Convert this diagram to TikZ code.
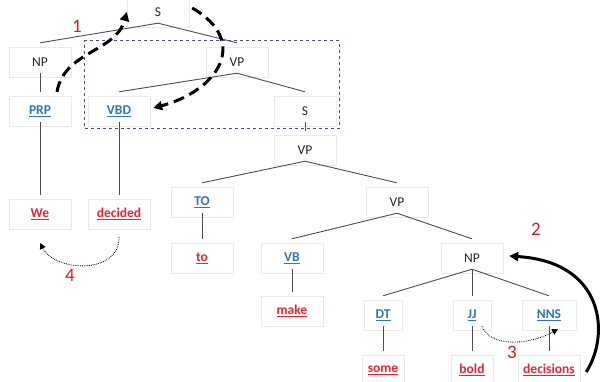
\documentclass[tikz,border=0pt]{standalone}
\usepackage{fontspec}
\setmainfont{Carlito}
\usetikzlibrary{positioning, arrows.meta, fit}

\definecolor{tagblue}{RGB}{46,117,182}
\definecolor{wordred}{RGB}{232,37,45}
\definecolor{numred}{RGB}{200,35,40}
\definecolor{boxline}{RGB}{234,234,234}
\definecolor{frameblue}{RGB}{70,80,130}

\begin{document}
\begin{tikzpicture}[
    on grid,
    box/.style={draw=boxline, minimum width=62pt, minimum height=30pt, inner sep=1pt,
                font=\fontsize{13.5}{16}\selectfont},
    cat/.style={box, text=black!85},
    tag/.style={box, text=tagblue, font=\fontsize{13.5}{16}\selectfont\bfseries},
    word/.style={box, text=wordred, font=\fontsize{13.5}{16}\selectfont\bfseries},
    branch/.style={draw=black!70, line width=0.9pt},
    num/.style={text=numred, font=\fontsize{19}{20}\selectfont},
    move/.style={line width=3pt, -{Triangle[length=9pt,width=9pt]}},
    hop/.style={densely dotted, line width=0.8pt, -{Triangle[length=6pt,width=6pt]}}
]
\useasboundingbox (0,0) rectangle (601pt,-381pt);

% tree
\node[cat] (s0) at (158pt,-12pt) {S};
\node[cat, below left=50pt and 118pt of s0] (np1) {NP};
\node[cat, below right=50pt and 79pt of s0] (vp1) {VP};
\node[tag, below=49pt of np1] (prp) {\underline{PRP}};
\node[tag, below left=49pt and 118pt of vp1] (vbd) {\underline{VBD}};
\node[cat, below right=49pt and 68pt of vp1] (s1) {S};
\node[cat, below=39pt of s1] (vp2) {VP};
\node[tag, below left=52pt and 103pt of vp2] (totag) {\underline{TO}};
\node[cat, below right=52pt and 92pt of vp2] (vp3) {VP};
\node[word, below=103pt of prp] (we) {\underline{We}};
\node[word, below=103pt of vbd] (decided) {\underline{decided}};
\node[word, below=56pt of totag] (toword) {\underline{to}};
\node[tag, below left=56pt and 105pt of vp3] (vb) {\underline{VB}};
\node[cat, below right=56pt and 75pt of vp3] (np2) {NP};
\node[word, below=53pt of vb] (make) {\underline{make}};
\node[tag, below left=57pt and 89pt of np2, minimum width=38pt] (dt) {\underline{DT}};
\node[tag, below=57pt of np2, minimum width=38pt] (jj) {\underline{JJ}};
\node[tag, below right=57pt and 77pt of np2, minimum width=54pt] (nns) {\underline{NNS}};
\node[word, below=55pt of dt, minimum width=42pt] (some) {\underline{some}};
\node[word, below=55pt of jj, minimum width=42pt] (bold) {\underline{bold}};
\node[word, below=55pt of nns] (decisions) {\underline{decisions}};

\draw[branch] ([yshift=4pt]s0.south) -- ([yshift=4pt]np1.north);
\draw[branch] ([yshift=4pt]s0.south) -- ([yshift=4pt]vp1.north);
\draw[branch] ([yshift=4pt]np1.south) -- ([yshift=4pt]prp.north);
\draw[branch] ([yshift=4pt]vp1.south) -- ([yshift=4pt]vbd.north);
\draw[branch] ([yshift=4pt]vp1.south) -- ([yshift=4pt]s1.north);
\draw[branch] ([yshift=4pt]s1.south) -- ([yshift=4pt]vp2.north);
\draw[branch] ([yshift=4pt]prp.south) -- ([yshift=4pt]we.north);
\draw[branch] ([yshift=4pt]vbd.south) -- ([yshift=4pt]decided.north);
\draw[branch] ([yshift=4pt]vp2.south) -- ([yshift=4pt]totag.north);
\draw[branch] ([yshift=4pt]vp2.south) -- ([yshift=4pt]vp3.north);
\draw[branch] ([yshift=4pt]totag.south) -- ([yshift=4pt]toword.north);
\draw[branch] ([yshift=4pt]vp3.south) -- ([yshift=4pt]vb.north);
\draw[branch] ([yshift=4pt]vp3.south) -- ([yshift=4pt]np2.north);
\draw[branch] ([yshift=4pt]vb.south) -- ([yshift=4pt]make.north);
\draw[branch] ([yshift=4pt]np2.south) -- ([yshift=4pt]dt.north);
\draw[branch] ([yshift=4pt]np2.south) -- ([yshift=4pt]jj.north);
\draw[branch] ([yshift=4pt]np2.south) -- ([yshift=4pt]nns.north);
\draw[branch] ([yshift=4pt]dt.south) -- ([yshift=4pt]some.north);
\draw[branch] ([yshift=4pt]jj.south) -- ([yshift=4pt]bold.north);
\draw[branch] ([yshift=4pt]nns.south) -- ([yshift=4pt]decisions.north);

% moved part
\node[draw=frameblue, dashed, line width=0.8pt, inner xsep=3pt, inner ysep=4pt, yshift=2pt,
      fit=(vp1)(vbd)(s1)] (frame) {};

% movement arrows
\draw[move, dash pattern=on 11pt off 6pt] ([xshift=17pt,yshift=4pt]prp.north)
    to[out=80, in=-105] (s0.west);
\draw[move, dash pattern=on 11pt off 6pt] ([xshift=3pt,yshift=4pt]s0.east)
    to[out=-30, in=15, looseness=1.6] ([xshift=3pt,yshift=3pt]vbd.east);
\draw[move] ([xshift=6pt,yshift=-2pt]decisions.east)
    .. controls (610pt,-335pt) and (605pt,-262pt) .. ([xshift=6pt,yshift=2pt]np2.east);
\draw[hop] ([xshift=10pt,yshift=-11pt]jj.center)
    .. controls (490pt,-348pt) and (530pt,-345pt) .. ([xshift=9pt,yshift=-14pt]nns.center);
\draw[hop] ([yshift=-23pt]decided.center)
    .. controls (120pt,-275pt) and (55pt,-272pt) .. ([yshift=-29pt]we.center);

% step numbers
\node[num] (n1) at (77pt,-26pt) {1};
\node[num] (n2) at (536pt,-229pt) {2};
\node[num] (n3) at (512pt,-352pt) {3};
\node[num] (n4) at (70pt,-275pt) {4};
\end{tikzpicture}
\end{document}
